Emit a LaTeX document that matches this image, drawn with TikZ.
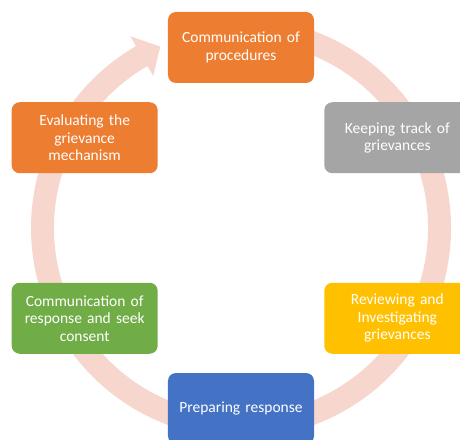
\documentclass[tikz,border=0pt]{standalone}
\usepackage{fontspec}
\setmainfont{Carlito}
\definecolor{ringpink}{RGB}{247,215,205}
\definecolor{cOrange}{RGB}{237,125,49}
\definecolor{cGray}{RGB}{165,165,165}
\definecolor{cYellow}{RGB}{255,192,0}
\definecolor{cBlue}{RGB}{68,114,196}
\definecolor{cGreen}{RGB}{112,173,71}
\begin{document}
\begin{tikzpicture}[x=1pt,y=1pt,
  stage/.style={rounded corners=8pt, minimum width=146pt, minimum height=71pt,
    text width=140pt, align=center, text=white, inner sep=0pt,
    font=\fontsize{15.5}{17.5}\selectfont}]
  \useasboundingbox (-241,-211) rectangle (219,228);
  \clip (-241,-211) rectangle (219,228);
  % circular arrow running clockwise behind the stages
  \fill[ringpink] (90:210) arc[start angle=90, end angle=-240, radius=210]
    -- (-240:221.5) -- (-246:198.5) -- (-240:175.5) -- (-240:187)
    arc[start angle=-240, end angle=90, radius=187] -- cycle;
  % stages
  \node[stage, fill=cOrange] (s1) at (90:180.5) {Communication of\\procedures};
  \node[stage, fill=cGray]   (s2) at (30:180.5) {Keeping track of\\grievances};
  \node[stage, fill=cYellow] (s3) at (-30:180.5) {Reviewing and\\Investigating\\grievances};
  \node[stage, fill=cBlue]   (s4) at (-90:180.5) {Preparing response};
  \node[stage, fill=cGreen]  (s5) at (-150:180.5) {Communication of\\response and seek\\consent};
  \node[stage, fill=cOrange] (s6) at (150:180.5) {Evaluating the\\grievance\\mechanism};
\end{tikzpicture}
\end{document}
